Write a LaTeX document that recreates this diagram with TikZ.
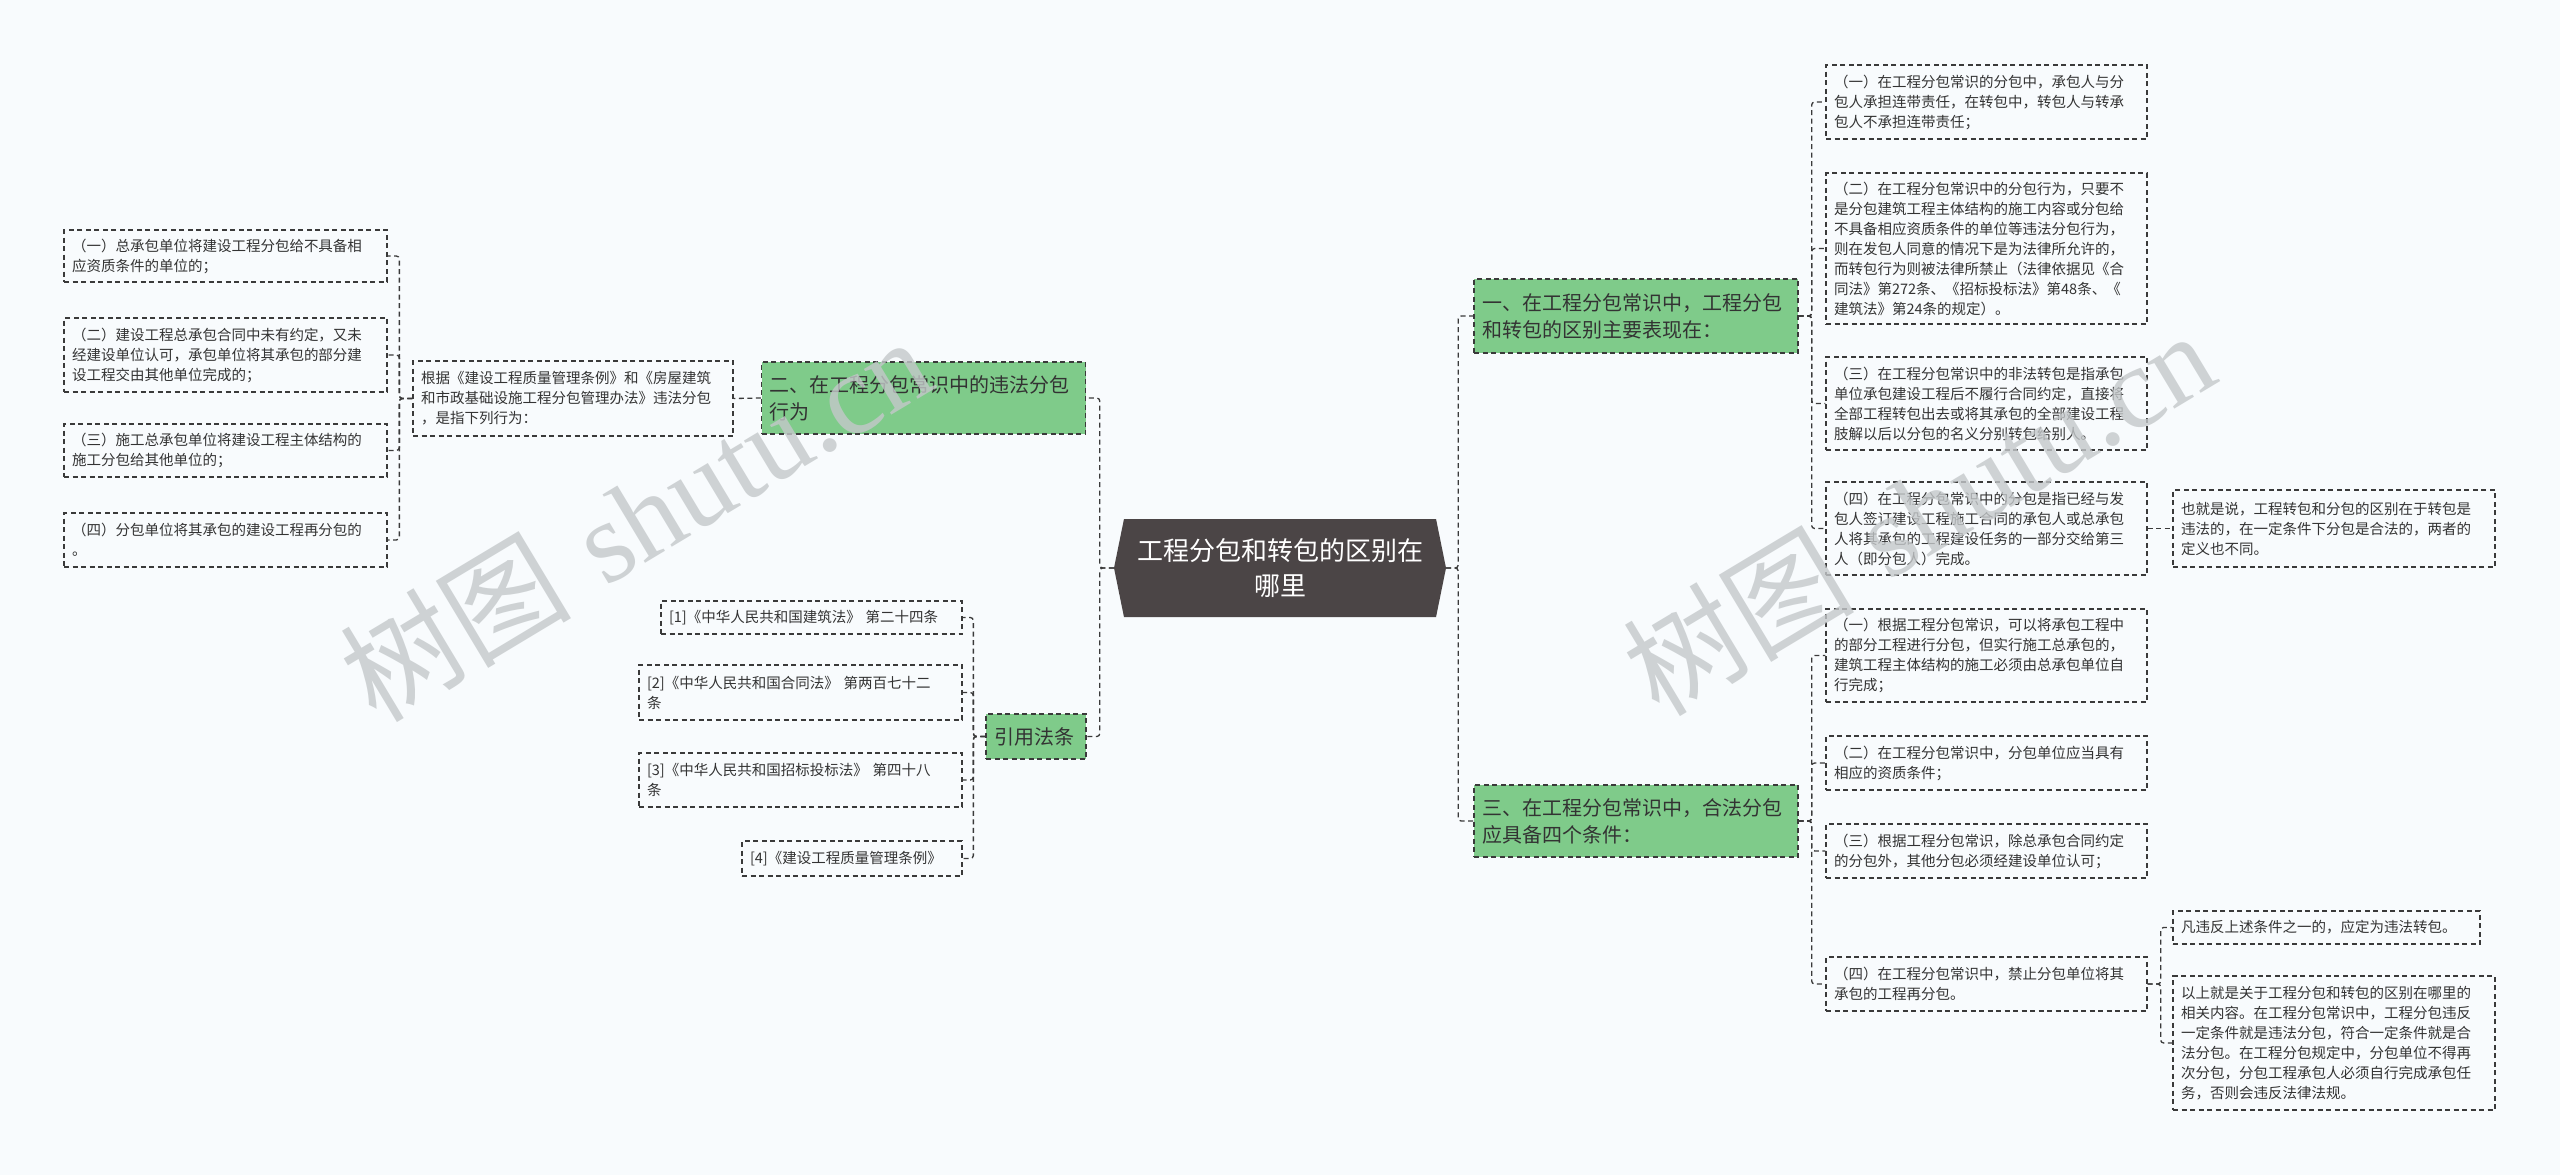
\documentclass[tikz,border=0pt]{standalone}
\usepackage{fontspec}
\newfontfamily\cjk{Noto Sans CJK SC}
\newfontfamily\wmlatin{Liberation Serif}
\usetikzlibrary{shapes.symbols}
\definecolor{bgc}{HTML}{F8FBFD}
\definecolor{linec}{HTML}{3A3A3A}
\definecolor{greenc}{HTML}{7FCB8A}
\definecolor{rootc}{HTML}{4B4546}
\definecolor{wmc}{HTML}{C4C8CA}

\begin{document}
\begin{tikzpicture}[
        x=1pt, y=-1pt,
        leaf/.style={draw=linec, dashed, dash pattern=on 5pt off 3.5pt, line width=1.3pt, align=left,
            inner xsep=8pt, inner ysep=0pt, text width=306pt, text=black!80,
            font=\cjk\fontsize{14.5}{20}\selectfont},
        branch/.style={leaf, fill=greenc, text width=308pt, font=\cjk\fontsize{20}{27}\selectfont},
        rootbox/.style={shape=signal, signal to=west and east, signal pointer angle=157, fill=rootc,
            text=white, align=center, inner sep=0pt, minimum width=332pt, minimum height=98pt,
            font=\cjk\fontsize{26}{35}\selectfont},
        link/.style={draw=linec, dashed, dash pattern=on 5pt off 3.5pt, line width=1.3pt, rounded corners=3pt},
        wmark/.style={rotate=31, text=wmc, opacity=0.8, font=\fontsize{116}{116}\selectfont}
    ]
    \useasboundingbox (0,0) rectangle (2560,1175);
    \fill[bgc] (0,0) rectangle (2560,1175);

    % centre
    \node[rootbox] (root) at (1280,568) {工程分包和转包的区别在\\哪里};

    % left side
    \node[branch, minimum height=72pt] (b2) at (923.5,398) {二、在工程分包常识中的违法分包\\行为};
    \node[leaf, text width=304pt, minimum height=75pt] (mid) at (573,398.5) {根据《建设工程质量管理条例》和《房屋建筑\\和市政基础设施工程分包管理办法》违法分包\\，是指下列行为：};
    \node[leaf, text width=307pt, minimum height=52pt] (l1) at (225.5,256) {（一）总承包单位将建设工程分包给不具备相\\应资质条件的单位的；};
    \node[leaf, text width=307pt, minimum height=74pt] (l2) at (225.5,355) {（二）建设工程总承包合同中未有约定，又未\\经建设单位认可，承包单位将其承包的部分建\\设工程交由其他单位完成的；};
    \node[leaf, text width=307pt, minimum height=53pt] (l3) at (225.5,450.5) {（三）施工总承包单位将建设工程主体结构的\\施工分包给其他单位的；};
    \node[leaf, text width=307pt, minimum height=54pt] (l4) at (225.5,540) {（四）分包单位将其承包的建设工程再分包的\\。};

    \node[branch, text width=84pt, inner xsep=8pt, minimum height=45pt] (cite) at (1036,736.5) {引用法条};
    \node[leaf, text width=285pt, minimum height=33pt] (law1) at (811.5,617.5) {[1]《中华人民共和国建筑法》 第二十四条};
    \node[leaf, text width=307pt, minimum height=55pt] (law2) at (800.5,692.5) {[2]《中华人民共和国合同法》 第两百七十二\\条};
    \node[leaf, text width=307pt, minimum height=54pt] (law3) at (800.5,780) {[3]《中华人民共和国招标投标法》 第四十八\\条};
    \node[leaf, text width=204pt, minimum height=35pt] (law4) at (852,858.5) {[4]《建设工程质量管理条例》};

    % right side
    \node[branch, minimum height=74pt] (b1) at (1636,316) {一、在工程分包常识中，工程分包\\和转包的区别主要表现在：};
    \node[leaf, text width=305pt, minimum height=74pt] (r1) at (1986.5,102) {（一）在工程分包常识的分包中，承包人与分\\包人承担连带责任，在转包中，转包人与转承\\包人不承担连带责任；};
    \node[leaf, text width=305pt, minimum height=151pt] (r2) at (1986.5,248.5) {（二）在工程分包常识中的分包行为，只要不\\是分包建筑工程主体结构的施工内容或分包给\\不具备相应资质条件的单位等违法分包行为，\\则在发包人同意的情况下是为法律所允许的，\\而转包行为则被法律所禁止（法律依据见《合\\同法》第272条、《招标投标法》第48条、《\\建筑法》第24条的规定）。};
    \node[leaf, text width=305pt, minimum height=93pt] (r3) at (1986.5,403.5) {（三）在工程分包常识中的非法转包是指承包\\单位承包建设工程后不履行合同约定，直接将\\全部工程转包出去或将其承包的全部建设工程\\肢解以后以分包的名义分别转包给别人。};
    \node[leaf, text width=305pt, minimum height=93pt] (r4) at (1986.5,528.5) {（四）在工程分包常识中的分包是指已经与发\\包人签订建设工程施工合同的承包人或总承包\\人将其承包的工程建设任务的一部分交给第三\\人（即分包人）完成。};
    \node[leaf, text width=306pt, minimum height=77pt] (r4c) at (2334,528.5) {也就是说，工程转包和分包的区别在于转包是\\违法的，在一定条件下分包是合法的，两者的\\定义也不同。};

    \node[branch, minimum height=72pt] (b3) at (1636,821) {三、在工程分包常识中，合法分包\\应具备四个条件：};
    \node[leaf, text width=305pt, minimum height=93pt] (s1) at (1986.5,655.5) {（一）根据工程分包常识，可以将承包工程中\\的部分工程进行分包，但实行施工总承包的，\\建筑工程主体结构的施工必须由总承包单位自\\行完成；};
    \node[leaf, text width=305pt, minimum height=54pt] (s2) at (1986.5,763) {（二）在工程分包常识中，分包单位应当具有\\相应的资质条件；};
    \node[leaf, text width=305pt, minimum height=54pt] (s3) at (1986.5,851) {（三）根据工程分包常识，除总承包合同约定\\的分包外，其他分包必须经建设单位认可；};
    \node[leaf, text width=305pt, minimum height=54pt] (s4) at (1986.5,984) {（四）在工程分包常识中，禁止分包单位将其\\承包的工程再分包。};
    \node[leaf, text width=291pt, minimum height=33pt] (t1) at (2326.5,927.5) {凡违反上述条件之一的，应定为违法转包。};
    \node[leaf, text width=306pt, minimum height=134pt] (t2) at (2334,1043) {以上就是关于工程分包和转包的区别在哪里的\\相关内容。在工程分包常识中，工程分包违反\\一定条件就是违法分包，符合一定条件就是合\\法分包。在工程分包规定中，分包单位不得再\\次分包，分包工程承包人必须自行完成承包任\\务，否则会违反法律法规。};

    % connectors
    \draw[link] (root.west) -- ++(-14,0) |- (b2.east);
    \draw[link] (root.west) -- ++(-14,0) |- (cite.east);
    \draw[link] (root.east) -- ++(12,0) |- (b1.west);
    \draw[link] (root.east) -- ++(12,0) |- (b3.west);
    \draw[link] (b2.west) -- (mid.east);
    \foreach \k in {l1,l2,l3,l4}
        \draw[link] (mid.west) -- ++(-13,0) |- (\k.east);
    \foreach \k in {law1,law2,law3,law4}
        \draw[link] (cite.west) -- ++(-12,0) |- (\k.east);
    \foreach \k in {r1,r2,r3,r4}
        \draw[link] (b1.east) -- ++(13,0) |- (\k.west);
    \draw[link] (r4.east) -- (r4c.west);
    \foreach \k in {s1,s2,s3,s4}
        \draw[link] (b3.east) -- ++(13,0) |- (\k.west);
    \foreach \k in {t1,t2}
        \draw[link] (s4.east) -- ++(13,0) |- (\k.west);

    % watermark
    \node[wmark] (wm1) at (635,518) {{\cjk 树图} \wmlatin shutu.cn};
    \node[wmark] (wm2) at (1918,512) {{\cjk 树图} \wmlatin shutu.cn};
\end{tikzpicture}
\end{document}
